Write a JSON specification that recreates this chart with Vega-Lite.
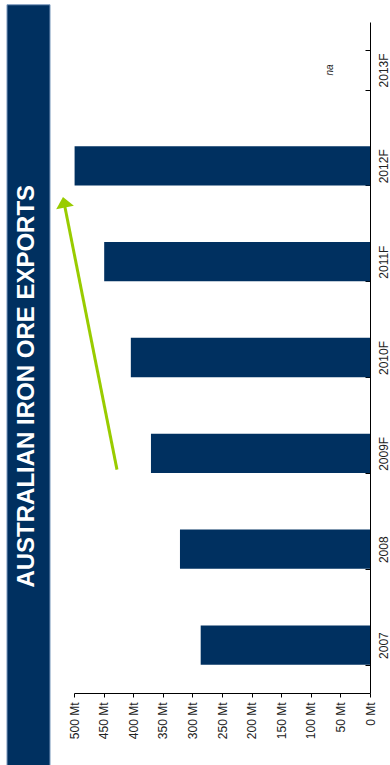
{
  "$schema": "https://vega.github.io/schema/vega-lite/v6.json",
  "width": 296,
  "height": 671,
  "autosize": {"type": "none"},
  "padding": {"left": 74, "top": 22, "right": 20, "bottom": 72},
  "background": "white",
  "config": {"view": {"stroke": null}, "font": "Liberation Sans", "axis": {"grid": false},
    "axisX": {"title": null, "labelAngle": 270, "labelAlign": "right", "labelBaseline": "middle",
      "labelOverlap": false, "labelFlush": false, "tickSize": 4, "labelPadding": 5, "labelFontSize": 12,
      "labelColor": "#222", "domainColor": "#000", "tickColor": "#000"}},
  "layer": [
    {
      "data": {"values": [
        {"year": "2007", "exports": 286, "note": ""},
        {"year": "2008", "exports": 321, "note": ""},
        {"year": "2009F", "exports": 370, "note": ""},
        {"year": "2010F", "exports": 404, "note": ""},
        {"year": "2011F", "exports": 449, "note": ""},
        {"year": "2012F", "exports": 499, "note": ""},
        {"year": "2013F", "exports": null, "note": "na"}
      ]},
      "layer": [
        {
          "mark": {"type": "bar", "color": "#003060"},
          "encoding": {
            "y": {"field": "year", "type": "nominal", "sort": "descending",
              "scale": {"paddingInner": 0.59, "paddingOuter": 0.295},
              "axis": {"orient": "right", "title": null, "tickBand": "extent", "tickSize": -5,
                "labelAngle": 270, "labelAlign": "center", "labelBaseline": "top", "labelPadding": 13,
                "labelOverlap": false, "labelFontSize": 12, "labelColor": "#222", "domainColor": "#000", "tickColor": "#000"}},
            "x": {"field": "exports", "type": "quantitative",
              "scale": {"domain": [0, 500], "reverse": true, "nice": false},
              "axis": {"values": [0, 50, 100, 150, 200, 250, 300, 350, 400, 450, 500], "labelExpr": "datum.value + ' Mt'", "labelOverlap": false}}
          }
        },
        {
          "mark": {"type": "text", "angle": 270, "align": "center", "baseline": "middle", "fontSize": 10, "fontStyle": "italic", "color": "#222"},
          "encoding": {
            "y": {"field": "year", "type": "nominal", "sort": "descending"},
            "x": {"datum": 68, "type": "quantitative", "scale": {"domain": [0, 500], "reverse": true, "nice": false},
              "axis": {"values": [0, 50, 100, 150, 200, 250, 300, 350, 400, 450, 500], "labelExpr": "datum.value + ' Mt'", "labelOverlap": false}},
            "text": {"field": "note"}
          }
        }
      ]
    },
    {
      "layer": [
        {
          "data": {"values": [{"t": "AUSTRALIAN IRON ORE EXPORTS"}]},
          "mark": {"type": "rect", "color": "#003060", "stroke": "#7f9cc0", "strokeWidth": 1},
          "encoding": {
            "x": {"datum": 613.2, "type": "quantitative", "scale": {"domain": [0, 500], "reverse": true, "nice": false},
              "axis": {"values": [0, 50, 100, 150, 200, 250, 300, 350, 400, 450, 500], "labelExpr": "datum.value + ' Mt'", "labelOverlap": false}},
            "x2": {"datum": 540.5},
            "y": {"datum": -0.76, "type": "quantitative", "scale": {"domain": [0, 7], "nice": false, "zero": false}, "axis": null},
            "y2": {"datum": 7.18}
          }
        },
        {
          "data": {"values": [{"t": "AUSTRALIAN IRON ORE EXPORTS"}]},
          "mark": {"type": "text", "angle": 270, "align": "center", "baseline": "middle", "fontSize": 24, "fontWeight": "bold", "color": "white"},
          "encoding": {
            "x": {"datum": 579, "type": "quantitative", "scale": {"domain": [0, 500], "reverse": true, "nice": false},
              "axis": {"values": [0, 50, 100, 150, 200, 250, 300, 350, 400, 450, 500], "labelExpr": "datum.value + ' Mt'", "labelOverlap": false}},
            "y": {"datum": 3.2, "type": "quantitative", "scale": {"domain": [0, 7], "nice": false, "zero": false}, "axis": null},
            "text": {"field": "t"}
          }
        },
        {
          "data": {"values": [{"t": "arrow"}]},
          "mark": {"type": "rule", "color": "#99cc00", "strokeWidth": 3},
          "encoding": {
            "x": {"datum": 427.4, "type": "quantitative", "scale": {"domain": [0, 500], "reverse": true, "nice": false},
              "axis": {"values": [0, 50, 100, 150, 200, 250, 300, 350, 400, 450, 500], "labelExpr": "datum.value + ' Mt'", "labelOverlap": false}},
            "x2": {"datum": 516.9},
            "y": {"datum": 2.33, "type": "quantitative", "scale": {"domain": [0, 7], "nice": false, "zero": false}, "axis": null},
            "y2": {"datum": 5.12}
          }
        },
        {
          "data": {"values": [{"t": "arrow"}]},
          "mark": {"type": "point", "shape": "M0,-0.6L1,0.6L-1,0.6Z", "filled": true, "color": "#99cc00", "opacity": 1, "size": 324, "angle": -11},
          "encoding": {
            "x": {"datum": 516.9, "type": "quantitative", "scale": {"domain": [0, 500], "reverse": true, "nice": false},
              "axis": {"values": [0, 50, 100, 150, 200, 250, 300, 350, 400, 450, 500], "labelExpr": "datum.value + ' Mt'", "labelOverlap": false}},
            "y": {"datum": 5.12, "type": "quantitative", "scale": {"domain": [0, 7], "nice": false, "zero": false}, "axis": null}
          }
        }
      ]
    }
  ],
  "resolve": {"scale": {"y": "independent"}}
}
